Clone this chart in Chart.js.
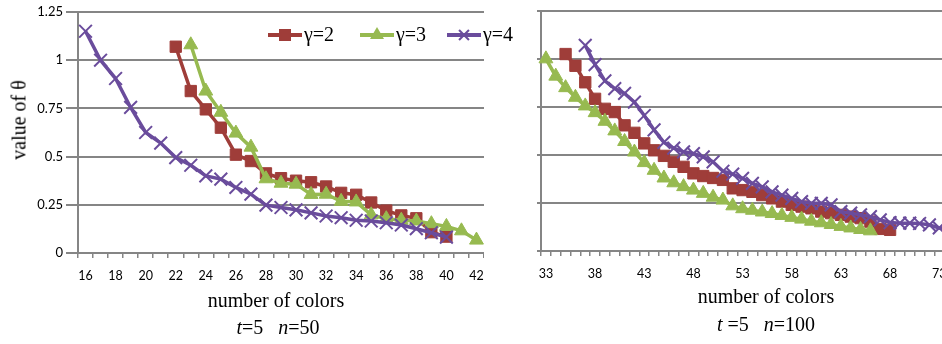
<!DOCTYPE html>
<html>
<head>
<meta charset="utf-8">
<script src="https://cdn.jsdelivr.net/npm/chart.js@4/dist/chart.umd.min.js"></script>
<style>
  body { margin:0; width:942px; height:344px; overflow:hidden; background:#fff; position:relative; }
  canvas { position:absolute; top:0; }
  #left { left:0; }
  #right { left:536px; }
  .txt { position:absolute; transform:translate(-50%,-50%); font-family:"Liberation Serif", serif; font-size:20px; color:#000; white-space:nowrap; }
  .ytitle { transform:translate(-50%,-50%) rotate(-90deg); }
  .legend { position:absolute; top:35px; height:0; }
  .leg-line { position:absolute; height:4px; top:-2px; }
  .leg-text { position:absolute; top:-12px; font-family:"Liberation Serif", serif; font-size:20px; line-height:22px; }
</style>
</head>
<body>
<canvas id="left" width="484" height="290"></canvas>
<canvas id="right" width="418" height="288"></canvas>

<div class="txt ytitle" style="left:19px; top:120px;">value of θ</div>
<div class="txt" style="left:276px; top:300px;">number of colors</div>
<div class="txt" style="left:278px; top:327px;"><i>t</i>=5&nbsp;&nbsp;&nbsp;<i>n</i>=50</div>
<div class="txt" style="left:766px; top:296px;">number of colors</div>
<div class="txt" style="left:766px; top:324px;"><i>t</i> =5&nbsp;&nbsp;&nbsp;<i>n</i>=100</div>

<div id="legend"></div>

<script>
// categories (number of colors)
const leftColors = [16,17,18,19,20,21,22,23,24,25,26,27,28,29,30,31,32,33,34,35,36,37,38,39,40,41,42];
const rightColors = [33,34,35,36,37,38,39,40,41,42,43,44,45,46,47,48,49,50,51,52,53,54,55,56,57,58,59,60,61,62,63,64,65,66,67,68,69,70,71,72,73,74];
const leftTickLabels = [16,18,20,22,24,26,28,30,32,34,36,38,40,42];
const rightTickLabels = [33,38,43,48,53,58,63,68,73];

const seriesNames = ['γ=2','γ=3','γ=4'];

// t=5 n=50
const leftG2Start = 22;
const leftG2 = [1.07,0.84,0.745,0.65,0.51,0.477,0.413,0.388,0.375,0.367,0.345,0.312,0.302,0.262,0.22,0.195,0.18,0.108,0.085];
const leftG3Start = 23;
const leftG3 = [1.08,0.84,0.73,0.622,0.549,0.385,0.362,0.357,0.304,0.305,0.268,0.265,0.198,0.178,0.17,0.166,0.152,0.138,0.115,0.067];
const leftG4Start = 16;
const leftG4 = [1.15,1.0,0.905,0.755,0.625,0.57,0.495,0.455,0.40,0.383,0.34,0.305,0.248,0.236,0.224,0.208,0.192,0.183,0.17,0.166,0.157,0.145,0.126,0.105,0.082];

// t=5 n=100
const rightG2Start = 35;
const rightG2 = [1.025,0.964,0.878,0.792,0.74,0.723,0.654,0.615,0.56,0.524,0.495,0.464,0.438,0.404,0.39,0.38,0.37,0.326,0.317,0.308,0.291,0.274,0.257,0.24,0.231,0.222,0.205,0.197,0.188,0.179,0.171,0.153,0.115,0.11];
const rightG3Start = 33;
const rightG3 = [1.0,0.91,0.85,0.80,0.755,0.72,0.675,0.625,0.57,0.515,0.46,0.42,0.38,0.355,0.335,0.317,0.30,0.28,0.265,0.235,0.22,0.212,0.203,0.195,0.185,0.175,0.166,0.155,0.147,0.138,0.128,0.12,0.112,0.105];
const rightG4Start = 37;
const rightG4 = [1.07,0.97,0.885,0.845,0.82,0.775,0.705,0.63,0.565,0.535,0.516,0.507,0.49,0.464,0.415,0.40,0.378,0.352,0.334,0.308,0.291,0.274,0.257,0.248,0.248,0.24,0.205,0.197,0.188,0.179,0.162,0.148,0.145,0.145,0.143,0.136,0.12,0.11];

const yMax = 1.25, yStep = 0.25;

const red = '#9f3d39', green = '#97ba50', purple = '#6a4c9c';
const gridGray = '#858585';

function pad(cats, start, vals) {
  return cats.map(c => {
    let i = c - start;
    return (i >= 0 && i < vals.length) ? vals[i] : null;
  });
}

function makeSets(cats, a, b, c) {
  return [
    { label: seriesNames[0], data: pad(cats, a[0], a[1]), borderColor: red, backgroundColor: red,
      pointStyle: 'rect', pointRadius: 8, pointBorderWidth: 1, borderWidth: 3.5, order: 2 },
    { label: seriesNames[1], data: pad(cats, b[0], b[1]), borderColor: green, backgroundColor: green,
      pointStyle: 'triangle', pointRadius: 8, pointBorderWidth: 1, borderWidth: 3.5, order: 1 },
    { label: seriesNames[2], data: pad(cats, c[0], c[1]), borderColor: purple, backgroundColor: purple,
      pointStyle: 'crossRot', pointRadius: 9, pointBorderWidth: 2, borderWidth: 3.5, order: 0 }
  ];
}

function makeChart(id, cats, sets, shownTicks, yLabels, yWidth, yTick, top) {
  return new Chart(document.getElementById(id), {
    type: 'line',
    data: { labels: cats, datasets: sets },
    options: {
      responsive: false,
      animation: false,
      layout: { autoPadding: false, padding: { top: top, right: 0, left: 0, bottom: 0 } },
      elements: { line: { tension: 0 } },
      plugins: { legend: { display: false }, tooltip: { enabled: false } },
      scales: {
        x: {
          type: 'category',
          offset: true,
          grid: { offset: true, drawOnChartArea: false, color: gridGray, lineWidth: 1.5, tickLength: 5 },
          border: { color: gridGray, width: 2 },
          ticks: {
            autoSkip: false, maxRotation: 0, padding: 0,
            // tall line box pushes the numbers down without side padding
            font: { family: 'Lato', size: 12.5, lineHeight: '36px' }, color: '#000',
            callback: function(v) {
              let c = cats[v];
              return shownTicks.includes(c) ? String(c) : '';
            }
          },
          afterFit: s => { s.height = 37; }
        },
        y: {
          min: 0, max: yMax,
          grid: { color: gridGray, lineWidth: 2, tickLength: yTick },
          border: { color: gridGray, width: 2 },
          ticks: {
            stepSize: yStep, padding: 3,
            font: { family: 'Lato', size: 13 }, color: '#000',
            callback: v => yLabels ? String(v) : ''
          },
          afterFit: s => { s.width = yWidth; }
        }
      }
    }
  });
}

makeChart('left', leftColors,
  makeSets(leftColors, [leftG2Start, leftG2], [leftG3Start, leftG3], [leftG4Start, leftG4]),
  leftTickLabels, true, 78, 12, 12);

makeChart('right', rightColors,
  makeSets(rightColors, [rightG2Start, rightG2], [rightG3Start, rightG3], [rightG4Start, rightG4]),
  rightTickLabels, false, 5, 4, 10);

// legend
const legendBox = document.getElementById('legend');
const legendItems = [
  { x: 268, color: red, mark: 'rect' },
  { x: 360, color: green, mark: 'tri' },
  { x: 447, color: purple, mark: 'cross' }
];
legendItems.forEach((it, i) => {
  let d = document.createElement('div');
  d.className = 'legend';
  d.style.left = it.x + 'px';
  let m = '';
  if (it.mark === 'rect') m = `<div style="position:absolute;left:11px;top:-6px;width:12px;height:12px;background:${it.color}"></div>`;
  if (it.mark === 'tri') m = `<div style="position:absolute;left:10px;top:-8px;width:0;height:0;border-left:7px solid transparent;border-right:7px solid transparent;border-bottom:12px solid ${it.color}"></div>`;
  if (it.mark === 'cross') m = `<div style="position:absolute;left:16px;top:-7px;width:2px;height:14px;background:${it.color};transform:rotate(45deg)"></div>
    <div style="position:absolute;left:16px;top:-7px;width:2px;height:14px;background:${it.color};transform:rotate(-45deg)"></div>`;
  d.innerHTML = `<div class="leg-line" style="left:0;width:34px;background:${it.color}"></div>${m}
    <div class="leg-text" style="left:36px">${seriesNames[i]}</div>`;
  legendBox.appendChild(d);
});
</script>
</body>
</html>
